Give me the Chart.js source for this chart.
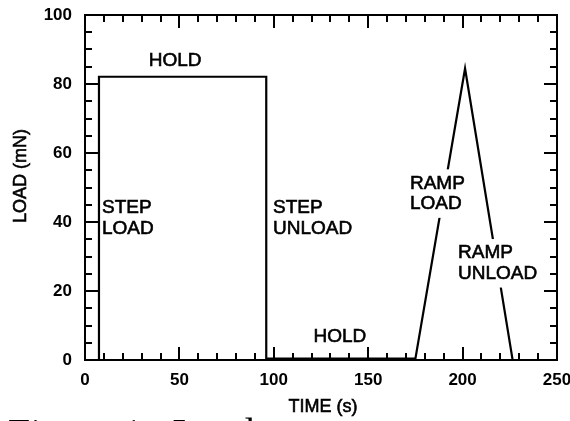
<!DOCTYPE html>
<html>
<head>
<meta charset="utf-8">
<script src="https://cdn.jsdelivr.net/npm/chart.js@4.4.0/dist/chart.umd.min.js"></script>
<style>
  html, body { margin: 0; padding: 0; background: #fff; }
</style>
</head>
<body>
<canvas id="load-chart" width="570" height="421"></canvas>
<script>
// Load history: time (s) vs load (mN)
const timeS  = [0, 7.4, 7.4, 96, 96, 175, 201.3, 226.5];
const loadMN = [0, 0, 82.1, 82.1, 0.4, 0.4, 84.5, 0];

// Axis tick labels
const xTickLabels = [0, 50, 100, 150, 200, 250];
const yTickLabels = [0, 20, 40, 60, 80, 100];

// Phase annotations (placed in data units)
const phaseText = [['HOLD'], ['STEP', 'LOAD'], ['STEP', 'UNLOAD'], ['HOLD'], ['RAMP', 'LOAD'], ['RAMP', 'UNLOAD']];
const phaseTime = [47.7, 9.0, 99.6, 135, 172.1, 197.6];
const phaseLoad = [86.7, 44.1, 44.1, 6.7, 51.2, 31.0];

const FONT = '"Liberation Sans", Arial, Helvetica, sans-serif';

// Frame round the plot with inward major/minor ticks on all four sides
const frameAndTicks = {
  id: 'frameAndTicks',
  afterDatasetsDraw(chart) {
    const { ctx, chartArea: a, scales: { x, y } } = chart;
    ctx.save();
    ctx.strokeStyle = '#000';
    ctx.lineWidth = 2;
    ctx.strokeRect(a.left, a.top, a.right - a.left, a.bottom - a.top);

    ctx.beginPath();
    for (let v = x.min; v <= x.max; v += 10) {
      const px = Math.round(x.getPixelForValue(v));
      const len = v % 50 === 0 ? 13 : 7;
      ctx.moveTo(px, a.bottom); ctx.lineTo(px, a.bottom - len);
      ctx.moveTo(px, a.top); ctx.lineTo(px, a.top + len);
    }
    for (let v = y.min; v <= y.max; v += 5) {
      const py = Math.round(y.getPixelForValue(v));
      const len = v % 20 === 0 ? 13 : 7;
      ctx.moveTo(a.left, py); ctx.lineTo(a.left + len, py);
      ctx.moveTo(a.right, py); ctx.lineTo(a.right - len, py);
    }
    ctx.stroke();
    ctx.restore();
  }
};

// fill + thin outline, to get the heavier look of the printed type
function heavyText(ctx, t, x, y) {
  ctx.fillText(t, x, y);
  ctx.strokeText(t, x, y);
}

// Phase labels, axis titles and the (cropped) figure caption
const textLayer = {
  id: 'textLayer',
  afterDraw(chart) {
    const { ctx, chartArea: a, scales: { x, y } } = chart;
    ctx.save();
    ctx.fillStyle = '#000';
    ctx.strokeStyle = '#000';
    ctx.lineWidth = 0.6;
    ctx.font = '19px ' + FONT;
    ctx.textBaseline = 'middle';

    phaseText.forEach((lines, i) => {
      const px = x.getPixelForValue(phaseTime[i]);
      const py = y.getPixelForValue(phaseLoad[i]);
      const lineH = 20.5;
      const center = i === 0 || i === 3;
      ctx.textAlign = center ? 'center' : 'left';
      // ramp labels sit on the ramp lines: knock the line out behind them
      if (i >= 4) {
        const w = Math.max(...lines.map(t => ctx.measureText(t).width));
        ctx.fillStyle = '#fff';
        ctx.fillRect(px - 3, py - 14, w + 6, lineH * (lines.length - 1) + 28);
        ctx.fillStyle = '#000';
      }
      lines.forEach((t, k) => heavyText(ctx, t, px, py + k * lineH));
    });

    // axis titles
    ctx.font = '18px ' + FONT;
    ctx.textAlign = 'center';
    heavyText(ctx, 'TIME (s)', (a.left + a.right) / 2 + 2, 407);
    ctx.save();
    ctx.translate(21, 176);
    ctx.rotate(-Math.PI / 2);
    heavyText(ctx, 'LOAD (mN)', 0, 0);
    ctx.restore();

    // caption below the figure, cut off by the frame edge
    ctx.font = '40px "Liberation Serif", "Times New Roman", serif';
    ctx.textAlign = 'left';
    ctx.textBaseline = 'alphabetic';
    ctx.fillText('Figure 1.  Load', 8, 446);
    ctx.restore();
  }
};

const ctx = document.getElementById('load-chart').getContext('2d');
new Chart(ctx, {
  type: 'scatter',
  data: {
    datasets: [{
      label: 'Load',
      data: timeS.map((t, i) => ({ x: t, y: loadMN[i] })),
      showLine: true,
      borderColor: '#000',
      borderWidth: 2.2,
      pointRadius: 0,
      tension: 0,
      fill: false
    }]
  },
  options: {
    responsive: false,
    animation: false,
    devicePixelRatio: 1,
    layout: { padding: { left: 0, right: 13, top: 15, bottom: 0 } },
    plugins: {
      legend: { display: false },
      tooltip: { enabled: false }
    },
    scales: {
      x: {
        type: 'linear',
        min: 0,
        max: 250,
        grid: { display: false, drawTicks: false },
        border: { display: false },
        afterBuildTicks: s => { s.ticks = xTickLabels.map(v => ({ value: v })); },
        afterFit: s => { s.height = 61; s.paddingLeft = 0; s.paddingRight = 0; },
        ticks: {
          padding: 10,
          maxRotation: 0,
          color: '#000',
          font: { family: FONT, size: 17, weight: 'bold' }
        }
      },
      y: {
        min: 0,
        max: 100,
        grid: { display: false, drawTicks: false },
        border: { display: false },
        afterBuildTicks: s => { s.ticks = yTickLabels.map(v => ({ value: v })); },
        afterFit: s => { s.width = 85; s.paddingTop = 0; s.paddingBottom = 0; },
        ticks: {
          padding: 13,
          color: '#000',
          font: { family: FONT, size: 17, weight: 'bold' }
        }
      }
    }
  },
  plugins: [frameAndTicks, textLayer]
});
</script>
</body>
</html>
